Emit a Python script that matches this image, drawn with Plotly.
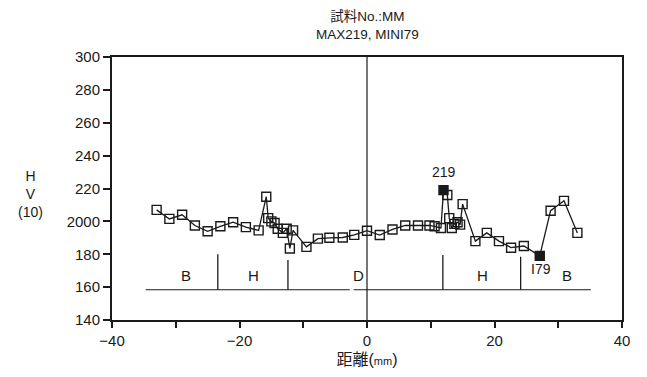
import plotly.graph_objects as go

# ---- data ----
dist_mm = [-33, -31, -29, -27, -25, -23, -21, -19, -17, -15.8, -15.5, -15, -14.5, -14,
           -13.2, -12.6, -12.1, -11.6, -9.5, -7.7, -5.9, -3.8, -2, 0, 2, 4, 6, 8, 9.8,
           10.6, 11.6, 12.0, 12.6, 12.9, 13.3, 13.7, 14.2, 14.6, 15.0, 17, 18.8, 20.7,
           22.6, 24.6, 27.1, 28.8, 30.9, 33]
hv10 = [207, 201.5, 204, 197.5, 194, 197, 199.5, 196.5, 194.5, 215, 202, 200, 199, 195.5,
        193, 195.5, 183.5, 194.5, 184.5, 189.5, 190, 190.2, 191.8, 194.3, 191.7, 195.1,
        197.5, 197.5, 197.5, 197, 196, 219, 216, 202, 196, 198.5, 199.5, 198, 210.5,
        188, 193, 188, 184, 185, 179, 206.5, 212.5, 193]
max_val = 219
min_val = 179

zone_bounds = [-23.4, -12.4, 11.9, 24.1]
zone_bound_tops = [180, 176.5, 179.5, 178.5]
zone_labels = ["B", "H", "D", "H", "B"]
zone_label_x = [-28.4, -17.8, -1.3, 18.1, 31.4]
zone_line_segments = [(-34.7, -2.7), (-2.1, 35.1)]
zone_line_y = 158.4

y_tickvals = [140, 160, 180, 200, 220, 240, 260, 280, 300]
y_ticktext = ["140", "160", "180", "2000", "220", "240", "260", "280", "300"]
x_tickvals = [-40, -20, 0, 20, 40]
x_ticktext = ["\u221240", "\u221220", "0", "20", "40"]

title_line1 = "試料No.:MM"
title_line2 = "MAX219, MINI79"
x_title = "距離(<span style='font-size:11px'>mm</span>)"
y_title = "H<br>V<br>(10)"

FONT = "Liberation Sans, Noto Sans CJK JP, sans-serif"
INK = "#1a1a1a"

symbols = ["square" if (v == max_val or v == min_val) else "square-open" for v in hv10]

fig = go.Figure()
fig.add_trace(go.Scatter(
    x=dist_mm, y=hv10, mode="lines+markers",
    line=dict(color=INK, width=1.3),
    marker=dict(symbol=symbols, size=9, color=INK, line=dict(color=INK, width=1.4)),
    showlegend=False, hoverinfo="skip",
))

shapes = []
shapes.append(dict(type="line", xref="x", yref="paper", x0=0, x1=0, y0=0, y1=1,
                   line=dict(color=INK, width=1.2)))
for (a, b) in zone_line_segments:
    shapes.append(dict(type="line", xref="x", yref="y", x0=a, x1=b, y0=zone_line_y, y1=zone_line_y,
                       line=dict(color=INK, width=1)))
for xb, top in zip(zone_bounds, zone_bound_tops):
    shapes.append(dict(type="line", xref="x", yref="y", x0=xb, x1=xb, y0=zone_line_y, y1=top,
                       line=dict(color=INK, width=1.3)))

annotations = []
for lab, lx in zip(zone_labels, zone_label_x):
    annotations.append(dict(x=lx, y=167, xref="x", yref="y", text=lab, showarrow=False,
                            font=dict(family=FONT, size=15, color=INK)))
max_x = dist_mm[hv10.index(max_val)]
min_x = dist_mm[hv10.index(min_val)]
annotations.append(dict(x=max_x, y=max_val, xref="x", yref="y", text=str(max_val), showarrow=False,
                        yshift=18, font=dict(family=FONT, size=14, color=INK)))
annotations.append(dict(x=min_x, y=min_val, xref="x", yref="y", text="I79", showarrow=False,
                        yshift=-13, xshift=1, font=dict(family=FONT, size=14, color=INK)))
annotations.append(dict(x=0.5, y=1, xref="paper", yref="paper", yanchor="bottom", xanchor="center",
                        yshift=13, text=title_line1 + "<br>" + title_line2, showarrow=False,
                        font=dict(family=FONT, size=13.5, color=INK)))
annotations.append(dict(x=-0.16, y=0.48, xref="paper", yref="paper", xanchor="center", yanchor="middle",
                        text=y_title, showarrow=False,
                        font=dict(family=FONT, size=14, color=INK)))

fig.update_layout(
    width=647, height=377,
    margin=dict(l=104, r=33, t=49, b=65),
    paper_bgcolor="white", plot_bgcolor="white",
    font=dict(family=FONT, size=15, color=INK),
    shapes=shapes, annotations=annotations,
)
fig.update_xaxes(
    range=[-40, 40], tickvals=x_tickvals, ticktext=x_ticktext,
    tickfont=dict(family=FONT, size=15, color=INK),
    showgrid=False, zeroline=False, showline=True, mirror=True, linecolor=INK, linewidth=2,
    ticks="outside", ticklen=6, tickwidth=1.5, tickcolor=INK,
    minor=dict(tickvals=[-30, -10, 10, 30], ticks="outside", ticklen=6, tickwidth=1.5, tickcolor=INK),
    title=dict(text=x_title, font=dict(family=FONT, size=16, color=INK), standoff=6),
)
fig.update_yaxes(
    range=[140, 300], tickvals=y_tickvals, ticktext=y_ticktext,
    tickfont=dict(family=FONT, size=15, color=INK),
    showgrid=False, zeroline=False, showline=True, mirror=True, linecolor=INK, linewidth=2,
    ticks="outside", ticklen=7, tickwidth=1.5, tickcolor=INK,
)

fig.write_html("out.html")
